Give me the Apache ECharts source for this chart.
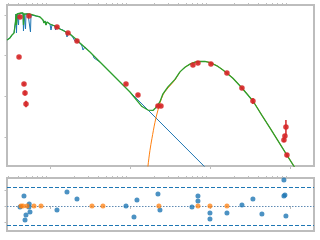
<!DOCTYPE html>
<html><head><meta charset="utf-8">
<script src="https://cdn.jsdelivr.net/npm/echarts@6/dist/echarts.min.js"></script>
<style>html,body{margin:0;padding:0;background:#fff}#c{width:320px;height:240px}</style>
</head><body><div id="c"></div>
<script>
// ---- stellar model (blue) ----
const starWave = [0.290,0.316,0.335,0.355,0.365,0.370,0.376,0.381,0.387,0.398,0.404,0.410,0.434,0.460,0.466,0.473,0.487,0.494,0.501,0.531,0.562,0.570,0.579,0.613,0.668,0.750,0.818,0.841,0.866,0.891,0.917,1.000,1.029,1.059,1.155,1.171,1.223,1.334,1.454,1.585,1.631,1.679,1.778,1.884,1.995,2.054,2.175,2.371,2.512,2.585,2.738,2.985,3.162,3.447,3.548,3.758,4.217,5.623,10.0,23.71,56.23,100.0];
const starFlux = [242,271,321,359,402,669,1052,359,1052,1052,565,1052,1113,1113,402,1052,1052,450,1052,1052,1052,380,995,995,940,888,750,632,708,565,669,597,425,565,534,425,504,450,425,380,286,359,339,303,271,228,242,204,172,137,163,137,122,103,87.3,87.3,69.6,39.5,12.76,2.34,0.428,0.138];
// ---- dust model (orange) ----
const dustWave = [16.5,16.79,17.78,18.84,20.54,22.39,25.85,29.85,36.52,42.17,48.70,56.23,64.94,74.99,86.60,100.0,122.3,145.4,168.9,193.9,251.2,344.7,446.7,562.3,749.9,917.3,1189];
const dustFlux = [0.12,0.194,0.47,0.93,2.3,4.6,10.8,16.0,25.1,39.5,51.6,61.7,68.8,71.7,71.7,67.6,56.1,44.3,35.0,27.7,16.0,7.67,3.4,1.68,0.68,0.36,0.16];
// ---- total model (green) ----
const totWave = [0.290,0.316,0.335,0.355,0.365,0.370,0.376,0.381,0.387,0.434,0.460,0.466,0.473,0.562,0.613,0.668,0.750,0.818,0.841,0.866,0.891,0.917,1.000,1.059,1.223,1.334,1.585,1.778,2.175,2.371,3.162,4.217,5.623,10.0,14.13,16.79,17.78,19.39,20.54,22.39,23.71,25.85,29.85,36.52,42.17,48.70,56.23,64.94,74.99,86.60,100.0,122.3,145.4,168.9,193.9,251.2,344.7,446.7,562.3,749.9,917.3,1189];
const totFlux = [242,271,321,359,402,669,1052,565,1052,1113,1113,565,1052,1052,995,940,888,750,632,708,565,669,597,565,504,450,380,339,242,204,122,69.6,39.5,12.76,5.6,4.6,4.4,4.5,5.0,6.2,7.4,11.5,17.0,26.0,39.8,51.8,61.8,68.8,71.7,71.7,67.6,56.1,44.3,35.0,27.7,16.0,7.67,3.4,1.68,0.68,0.36,0.16];
// ---- photometry (red) ----
const photWave = [0.410,0.422,0.546,0.473,0.487,0.501,1.223,1.679,2.175,8.913,12.59,22.39,24.41,61.31,70.79,102.9,163.1,251.2,344.7,891.3,866.0,841.4,917.3];
const photFlux = [92.4,888,940,20.0,12.05,6.47,504,359,228,20.0,10.8,5.78,5.78,58.7,65.8,62.2,37.4,16.0,7.67,1.76,1.06,0.844,0.361];
const photLo   = [88,850,900,18.5,10.5,5.37,485,345,218,19.2,10.3,5.5,5.5,56,63,59.5,35.8,15.1,6.47,1.12,0.97,0.75,0.32];
const photHi   = [97,930,980,21.6,13.9,7.80,524,373,238,20.8,11.3,6.1,6.1,61.5,68.7,65,39,17.0,9.09,2.62,1.16,0.95,0.40];
// ---- residuals ----
const resWave = [0.422,0.473,0.487,0.501,0.546,0.550,0.562,1.223,1.631,2.175,8.913,11.22,12.23,22.39,23.71,59.57,70.79,70.79,100.0,100.0,163.1,251.2,344.7,446.7,841.4,841.4,866.0,891.3];
const resVal  = [-0.06,0.63,-0.88,-0.56,-0.06,0.12,-0.38,-0.25,0.88,0.44,0.0,-0.69,0.38,0.75,-0.25,-0.06,0.63,0.31,-0.44,-0.81,-0.44,0.06,0.44,-0.5,1.63,0.63,0.69,-0.63];
const limWave = [0.434,0.460,0.516,0.631,0.772,3.349,4.594,23.0,70.79,100.0,163.1];
const limVal  = [0,0,0,0,0,0,0,0,0,0,0];
// ---- ticks ----
const majorTicksX = [1,10,100,1000];
const minorTicksX = [0.3,0.4,0.5,0.6,0.7,0.8,0.9,2,3,4,5,6,7,8,9,20,30,40,50,60,70,80,90,200,300,400,500,600,700,800,900];
const majorTicksY = [1,10,100,1000];
const resTicksY = [-1,0,1];
const resBand = [1.2,-1.2];
const resZero = [0];

const zip = (a,b) => a.map((v,i)=>[v,b[i]]);
const GRAY = '#bdbdbd';
const ch = echarts.init(document.getElementById('c'), null, {renderer:'canvas'});
const hidden = {axisLine:{show:false}, axisLabel:{show:false}, splitLine:{show:false}};
function xAx(grid, ticks, len){
  return Object.assign({type:'log', logBase:10, gridIndex:grid, min:0.29, max:2000,
    axisTick:{show:true, length:len, customValues:ticks, lineStyle:{color:GRAY, width:1}}}, hidden);
}
ch.setOption({
  animation:false,
  grid:[
    {left:7, right:6, top:5, height:161, show:true, borderColor:GRAY, borderWidth:2},
    {left:7, right:6, top:178, height:53, show:true, borderColor:GRAY, borderWidth:2}
  ],
  xAxis:[xAx(0, majorTicksX, 3), xAx(0, minorTicksX, 2), xAx(1, majorTicksX, 3), xAx(1, minorTicksX, 2)],
  yAxis:[
    Object.assign({type:'log', logBase:10, gridIndex:0, min:0.194, max:1750,
      axisTick:{show:true, length:2.5, customValues:majorTicksY, lineStyle:{color:GRAY, width:1}}}, hidden),
    Object.assign({type:'value', gridIndex:1, min:-1.5625, max:1.75,
      axisTick:{show:true, length:2.5, customValues:resTicksY, lineStyle:{color:GRAY, width:1}}}, hidden)
  ],
  series:[
    {type:'line', xAxisIndex:0, yAxisIndex:0, data:zip(starWave,starFlux), showSymbol:false, symbol:'none',
      lineStyle:{color:'#1f77b4', width:1}, z:2},
    {type:'line', xAxisIndex:0, yAxisIndex:0, data:zip(dustWave,dustFlux), showSymbol:false, symbol:'none', smooth:0.3,
      lineStyle:{color:'#ff7f0e', width:1}, z:3},
    {type:'line', xAxisIndex:0, yAxisIndex:0, data:zip(totWave,totFlux), showSymbol:false, symbol:'none',
      lineStyle:{color:'#2ca02c', width:1.3}, z:4},
    {type:'custom', xAxisIndex:0, yAxisIndex:0, z:5,
      data: photWave.map((w,i)=>[w, photLo[i], photHi[i]]),
      encode:{x:0, y:[1,2]},
      renderItem:(params, api)=>{
        const a = api.coord([api.value(0), api.value(1)]);
        const b = api.coord([api.value(0), api.value(2)]);
        return {type:'line', shape:{x1:a[0], y1:a[1], x2:b[0], y2:b[1]}, style:{stroke:'#d62728', lineWidth:1.5}};
      }},
    {type:'scatter', xAxisIndex:0, yAxisIndex:0, data:zip(photWave,photFlux), symbolSize:5.5,
      itemStyle:{color:'#d62728', opacity:0.9}, z:6},
    {type:'custom', xAxisIndex:2, yAxisIndex:1, z:3, silent:true,
      data: resBand.map(v=>[v]), encode:{y:0},
      renderItem:(params, api)=>{
        const cs = params.coordSys;
        const y = Math.round(api.coord([1, api.value(0)])[1]) + 0.5;
        return {type:'line', shape:{x1:cs.x, y1:y, x2:cs.x+cs.width, y2:y},
          style:{stroke:'#1f77b4', lineWidth:1, lineDash:[4,2]}};
      }},
    {type:'custom', xAxisIndex:2, yAxisIndex:1, z:3, silent:true,
      data: resZero.map(v=>[v]), encode:{y:0},
      renderItem:(params, api)=>{
        const cs = params.coordSys;
        const y = Math.round(api.coord([1, api.value(0)])[1]) + 0.5;
        return {type:'line', shape:{x1:cs.x, y1:y, x2:cs.x+cs.width, y2:y},
          style:{stroke:'#5f8ab3', lineWidth:1, lineDash:[1.5,1.5]}};
      }},
    {type:'scatter', xAxisIndex:2, yAxisIndex:1, data:zip(resWave,resVal), symbolSize:5,
      itemStyle:{color:'#1f77b4'}, z:5},
    {type:'scatter', xAxisIndex:2, yAxisIndex:1, data:zip(limWave,limVal), symbolSize:5,
      itemStyle:{color:'#ff7f0e', opacity:0.75}, z:6}
  ]
});
</script></body></html>
